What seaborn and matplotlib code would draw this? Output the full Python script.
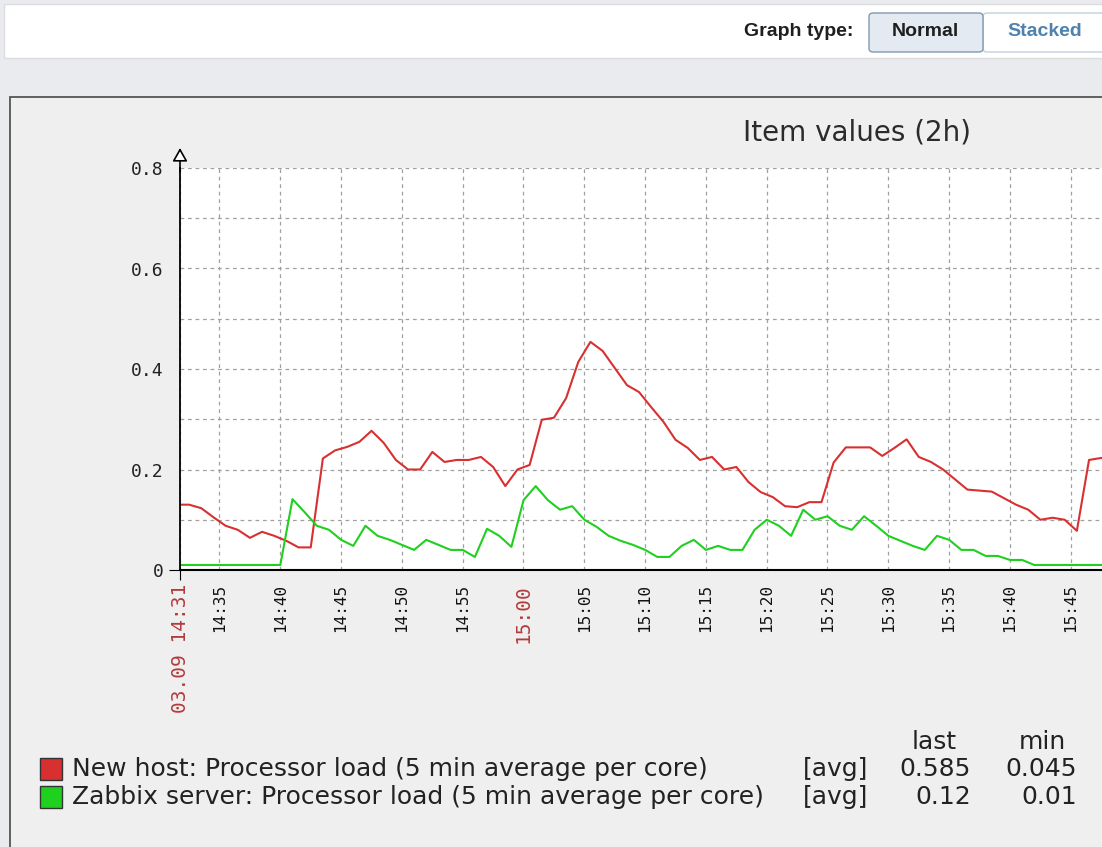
import matplotlib
matplotlib.use("Agg")
import matplotlib.pyplot as plt
import matplotlib.dates as mdates
from matplotlib.patches import Rectangle, FancyBboxPatch
from matplotlib.ticker import MultipleLocator
import pandas as pd
import seaborn as sns

# Data, one sample per minute
new_host_start = "2023-09-03 14:31:31"
zabbix_start = "2023-09-03 14:31:01"

new_host_load = [0.13, 0.13, 0.123, 0.105, 0.088, 0.08, 0.064, 0.076, 0.068, 0.058,
                 0.045, 0.045, 0.222, 0.238, 0.245, 0.255, 0.277, 0.253, 0.219, 0.2,
                 0.2, 0.235, 0.215, 0.219, 0.219, 0.225, 0.205, 0.167, 0.2, 0.209,
                 0.299, 0.303, 0.342, 0.414, 0.454, 0.436, 0.402, 0.368, 0.354, 0.324,
                 0.295, 0.259, 0.243, 0.219, 0.225, 0.2, 0.205, 0.175, 0.155, 0.145,
                 0.127, 0.125, 0.135, 0.135, 0.214, 0.244, 0.244, 0.244, 0.227, 0.243,
                 0.26, 0.225, 0.215, 0.2, 0.18, 0.16, 0.158, 0.156, 0.143, 0.13,
                 0.12, 0.1, 0.104, 0.1, 0.078, 0.219, 0.223, 0.223]

zabbix_load = [0.01, 0.01, 0.01, 0.01, 0.01, 0.01, 0.01, 0.01, 0.01, 0.01,
               0.141, 0.115, 0.088, 0.08, 0.06, 0.048, 0.088, 0.068, 0.06, 0.05,
               0.04, 0.06, 0.05, 0.04, 0.04, 0.026, 0.082, 0.068, 0.046, 0.139,
               0.167, 0.139, 0.12, 0.127, 0.1, 0.086, 0.068, 0.058, 0.05, 0.04,
               0.026, 0.026, 0.048, 0.06, 0.04, 0.048, 0.04, 0.04, 0.08, 0.1,
               0.088, 0.068, 0.12, 0.1, 0.107, 0.088, 0.08, 0.107, 0.088, 0.068,
               0.058, 0.048, 0.04, 0.068, 0.06, 0.04, 0.04, 0.028, 0.028, 0.02,
               0.02, 0.01, 0.01, 0.01, 0.01, 0.01, 0.01, 0.01]

series_names = ["New host: Processor load (5 min average per core)",
                "Zabbix server: Processor load (5 min average per core)"]
series_colors = ["#d83030", "#1fd01f"]
legend_func = ["[avg]", "[avg]"]
legend_last = ["0.585", "0.12"]
legend_min = ["0.045", "0.01"]

view_start = "2023-09-03 14:31:46"
view_end = "2023-09-03 15:47:35"
tick_times = ["14:31:46", "14:35", "14:40", "14:45", "14:50", "14:55", "15:00", "15:05",
              "15:10", "15:15", "15:20", "15:25", "15:30", "15:35", "15:40", "15:45"]
tick_labels = ["03.09 14:31", "14:35", "14:40", "14:45", "14:50", "14:55", "15:00", "15:05",
               "15:10", "15:15", "15:20", "15:25", "15:30", "15:35", "15:40", "15:45"]
red_labels = ["03.09 14:31", "15:00"]
y_ticks = [0, 0.2, 0.4, 0.6, 0.8]
y_labels = ["0", "0.2", "0.4", "0.6", "0.8"]

W, H = 1102, 847


def fx(px):
    return px / W


def fy(py):
    return 1 - py / H


df = pd.concat([
    pd.DataFrame({"time": pd.date_range(new_host_start, periods=len(new_host_load), freq="min"),
                  "load": new_host_load, "item": series_names[0]}),
    pd.DataFrame({"time": pd.date_range(zabbix_start, periods=len(zabbix_load), freq="min"),
                  "load": zabbix_load, "item": series_names[1]}),
])

fig = plt.figure(figsize=(W / 100, H / 100), dpi=100, facecolor="#e9ebee")

# page chrome: header bar with graph type buttons, then the graph panel (behind the axes)
fig.patches.append(Rectangle((fx(4), fy(58)), fx(1110) - fx(4), fy(4) - fy(58),
                             transform=fig.transFigure, fc="white", ec="#dcdcdc", lw=1, zorder=-5))
fig.patches.append(Rectangle((fx(10), fy(900)), fx(1110) - fx(10), fy(97) - fy(900),
                             transform=fig.transFigure, fc="#efefef", ec="#555555", lw=1.3, zorder=-5))
fig.patches.append(FancyBboxPatch((fx(983), fy(52)), fx(1120) - fx(983), fy(13) - fy(52),
                                  boxstyle="round,pad=0,rounding_size=0.004",
                                  transform=fig.transFigure, fc="white", ec="#c2d0dd", lw=1, zorder=-4))
fig.patches.append(FancyBboxPatch((fx(869), fy(52)), fx(983) - fx(869), fy(13) - fy(52),
                                  boxstyle="round,pad=0,rounding_size=0.004",
                                  transform=fig.transFigure, fc="#e3eaf1", ec="#8099b0", lw=1, zorder=-4))
fig.text(fx(853), fy(32), "Graph type:", ha="right", va="center", fontsize=14,
         family="Liberation Sans", weight="bold", color="#1f1f1f")
fig.text(fx(925), fy(32), "Normal", ha="center", va="center", fontsize=14,
         family="Liberation Sans", weight="bold", color="#1f1f1f")
fig.text(fx(1045), fy(32), "Stacked", ha="center", va="center", fontsize=14,
         family="Liberation Sans", weight="bold", color="#4f81ad")

ax = fig.add_axes([fx(180), fy(570), fx(W) - fx(180), fy(168) - fy(570)])
ax.set_facecolor("white")

sns.lineplot(data=df, x="time", y="load", hue="item", palette=series_colors,
             linewidth=1.5, legend=False, ax=ax)

ax.set_xlim(mdates.date2num(pd.Timestamp(view_start)), mdates.date2num(pd.Timestamp(view_end)))
ax.set_ylim(0, 0.8)
ax.set_xlabel("")
ax.set_ylabel("")

ax.set_xticks([mdates.date2num(pd.Timestamp("2023-09-03 " + t)) for t in tick_times])
ax.set_xticklabels(tick_labels, rotation=90, family="DejaVu Sans Mono", fontsize=11.5)
for lab in ax.get_xticklabels():
    if lab.get_text() in red_labels:
        lab.set_color("#b33a3a")
        lab.set_fontsize(14)
    else:
        lab.set_color("#111111")

ax.set_yticks(y_ticks)
ax.set_yticklabels(y_labels, family="DejaVu Sans Mono", fontsize=13, color="#222222")
ax.yaxis.set_minor_locator(MultipleLocator(0.1))

ax.tick_params(axis="x", length=0, pad=10)
ax.tick_params(axis="y", which="both", length=0, pad=12)
ax.xaxis.get_major_ticks()[0].tick1line.set_markersize(7)
ax.yaxis.get_major_ticks()[0].tick1line.set_markersize(8)

ax.set_axisbelow(True)
ax.grid(axis="y", which="both", color="#a0a0a0", linestyle=(0, (3, 3)), linewidth=0.9)
ax.grid(axis="x", which="major", color="#a0a0a0", linestyle=(0, (3, 3)), linewidth=0.9)

for side in ["top", "right"]:
    ax.spines[side].set_visible(False)
ax.spines["left"].set_color("black")
ax.spines["left"].set_linewidth(1.3)
ax.spines["bottom"].set_color("black")
ax.spines["bottom"].set_linewidth(1.5)

# y axis arrow head
ax.annotate("", xy=(0, 1 + 20 / 402), xytext=(0, 0.99), xycoords="axes fraction",
            annotation_clip=False,
            arrowprops=dict(arrowstyle="-|>,head_length=0.8,head_width=0.45",
                            fc="white", ec="black", lw=1.2, shrinkA=0, shrinkB=0))

fig.text(fx(857), fy(133), "Item values (2h)", ha="center", va="center",
         fontsize=20, color="#2b2b2b")

# legend table
fig.text(fx(934), fy(742), "last", ha="center", va="center", fontsize=18, color="#222222")
fig.text(fx(1042), fy(742), "min", ha="center", va="center", fontsize=18, color="#222222")
for i in range(len(series_names)):
    yc = 769 + 28 * i
    fig.patches.append(Rectangle((fx(40), fy(yc + 11)), fx(62) - fx(40), fy(yc - 11) - fy(yc + 11),
                                 transform=fig.transFigure, fc=series_colors[i],
                                 ec="#333333", lw=1))
    fig.text(fx(72), fy(yc), series_names[i], ha="left", va="center", fontsize=18, color="#222222")
    fig.text(fx(803), fy(yc), legend_func[i], ha="left", va="center", fontsize=18, color="#222222")
    fig.text(fx(971), fy(yc), legend_last[i], ha="right", va="center", fontsize=18, color="#222222")
    fig.text(fx(1077), fy(yc), legend_min[i], ha="right", va="center", fontsize=18, color="#222222")

fig.savefig("out.png", dpi=100, facecolor=fig.get_facecolor())
